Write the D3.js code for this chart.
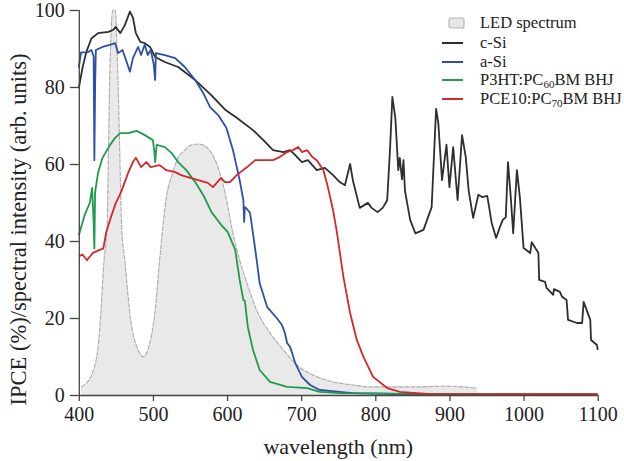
<!DOCTYPE html>
<html>
<head>
<meta charset="utf-8">
<script src="https://cdn.jsdelivr.net/npm/d3@7"></script>
<style>
  html, body { margin: 0; padding: 0; background: #fff; }
  svg { display: block; }
  svg text { font-family: "Liberation Serif", "DejaVu Serif", "Times New Roman", Times, serif; fill: #222; }
</style>
</head>
<body>
<svg id="chart" width="624" height="461"></svg>
<script>
// ---------- data ----------
const xTicks = [400, 500, 600, 700, 800, 900, 1000, 1100];
const yTicks = [0, 20, 40, 60, 80, 100];

const ledWl  = [403, 416, 426, 430, 434, 438, 442, 446, 449, 453, 458, 462, 470, 480, 487, 493, 503, 509, 518, 527, 534, 543, 551, 561, 570, 579, 588, 597, 600, 608, 617, 627, 640, 658, 676, 694, 716, 743, 770, 793, 856, 894, 937];
const ledVal = [2.1, 4.7, 12.5, 22, 35, 43, 85, 100, 100, 81, 43, 35, 19.5, 11.7, 9.9, 11.7, 22, 35, 51.2, 57.9, 61.6, 63.6, 64.9, 65.2, 64.7, 62.9, 59, 52.7, 49.9, 42, 35, 29, 22, 16.1, 11.7, 7.8, 5.2, 3.4, 2.6, 2.1, 2.1, 2.3, 1.8];

const cSiWl  = [400, 405, 410, 417, 426, 440, 446, 450, 456, 462, 469, 473, 477, 483, 489, 496, 503, 516, 534, 557, 578, 598, 613, 635, 649, 662, 676, 685, 692, 701, 709, 721, 732, 743, 752, 759, 766, 770, 779, 790, 795, 803, 810, 816, 820, 823, 827, 831, 833, 836, 838, 840, 847, 854, 865, 876, 882, 885, 890, 896, 900, 905, 911, 917, 922, 926, 932, 939, 944, 951, 957, 963, 968, 972, 976, 979, 983, 986, 991, 995, 1000, 1009, 1011, 1020, 1021, 1029, 1031, 1040, 1041, 1049, 1052, 1058, 1060, 1072, 1079, 1081, 1090, 1091, 1099, 1100];
const cSiVal = [79.7, 85, 89, 92.6, 94, 94.3, 94.8, 95.6, 94, 96, 99.6, 98, 94, 91.7, 91.4, 90.4, 87.8, 86.5, 85.2, 81.8, 78, 74, 72, 68.8, 66.2, 63.6, 63.1, 63.6, 62.3, 60.5, 61, 58.4, 59, 57.1, 55.3, 54.5, 60, 55.5, 48.6, 49.9, 48.6, 47.5, 48.6, 50.6, 64.4, 77.4, 72, 58.4, 61.6, 56, 61, 53, 45.5, 42, 42.9, 48.8, 74.3, 70.6, 55.8, 65, 54, 64.4, 50.6, 67.5, 61.8, 53, 46, 52, 51.4, 51.7, 44.7, 40.8, 43.6, 45.5, 46.2, 60.5, 50.6, 42, 58.4, 51.4, 38.2, 36.9, 39.7, 36.9, 29.9, 29.4, 27.8, 26, 27.5, 26.8, 25.5, 24.7, 19.5, 18.7, 18.7, 24.2, 19.5, 14.3, 13, 11.7];

const aSiWl  = [400, 403, 412, 417, 420, 421, 422, 423, 432, 443, 449, 453, 459, 469, 473, 480, 484, 489, 493, 497, 501, 503, 504, 516, 530, 543, 557, 568, 577, 588, 599, 608, 617, 622, 623, 624, 626, 631, 635, 640, 644, 654, 667, 674, 678, 681, 685, 692, 701, 712, 725, 752, 770, 850, 1100];
const aSiVal = [85, 89, 89, 89.6, 88, 61, 80, 89.6, 90.4, 91, 91.4, 88.8, 89.6, 84, 87.5, 90.4, 88.3, 91, 88.3, 89.6, 86, 81.8, 88.8, 88.3, 87.5, 85.2, 81.8, 78.4, 74.8, 72.7, 69.4, 63.6, 55.8, 50.6, 45, 48.8, 48.5, 47.3, 42, 35, 29, 22.9, 20, 18.2, 16.1, 13.5, 12.5, 8.3, 4.7, 2.6, 1.3, 0.8, 0.5, 0.2, 0.1];

const p3htWl  = [400, 408, 415, 418, 420, 421, 422, 426, 432, 442, 449, 456, 467, 478, 489, 500, 502, 503, 505, 516, 525, 534, 545, 557, 568, 579, 592, 601, 611, 617, 622, 624, 628, 635, 644, 658, 681, 708, 725, 752, 850, 1100];
const p3htVal = [41.5, 46.8, 50, 53.8, 45, 38, 52.7, 57.7, 61.6, 64.9, 66.8, 68, 68, 68.6, 67.5, 66.2, 63, 60.5, 65, 64.4, 62.9, 60.5, 58.4, 55.3, 51.9, 47.5, 44.2, 42.3, 37.7, 29.9, 24.7, 24.5, 17.7, 11.7, 6.5, 3.4, 2.1, 1.8, 0.8, 0.5, 0.3, 0.2];

const pce10Wl  = [400, 405, 411, 419, 428, 433, 437, 443, 450, 457, 462, 467, 473, 477, 484, 491, 497, 509, 518, 530, 538, 547, 561, 574, 581, 592, 597, 604, 613, 627, 638, 651, 662, 671, 681, 689, 696, 701, 708, 715, 721, 730, 736, 743, 748, 757, 766, 775, 784, 797, 816, 833, 870, 1100];
const pce10Val = [36, 36.5, 35, 36.9, 37.7, 38, 42.3, 46, 49.9, 52.7, 55.3, 57.9, 60.5, 61.6, 59.2, 60.5, 59.2, 59.7, 58.4, 57.9, 57.1, 56.6, 55.8, 55.1, 54, 56.4, 55.3, 55.3, 57.1, 59.2, 61, 61, 61, 61.8, 63.1, 63.6, 64.4, 63.1, 63.6, 61.8, 61, 58.4, 54, 48, 42.5, 30.6, 21.3, 14.3, 9.9, 4.7, 1.8, 0.8, 0.3, 0.2];

const seriesNames  = ["c-Si", "a-Si", "P3HT:PC60BM BHJ", "PCE10:PC70BM BHJ"];
const seriesColors = ["#2e2e2e", "#2f4fa6", "#1f9a4e", "#d3282b"];

// ---------- drawing ----------
const FONT = '"Liberation Serif", "DejaVu Serif", "Times New Roman", Times, serif';
const svg = d3.select("#chart");
const x = d3.scaleLinear().domain([400, 1100]).range([78.8, 597.7]);
const y = d3.scaleLinear().domain([0, 100]).range([395, 10]);

const zip = (a, b) => a.map((w, i) => [w, b[i]]);

// LED spectrum area
const led = zip(ledWl, ledVal);
svg.append("path")
  .datum(led)
  .attr("d", d3.area().x(d => x(d[0])).y0(y(0)).y1(d => y(d[1])).curve(d3.curveMonotoneX))
  .attr("fill", "#e9e9ea");
svg.append("path")
  .datum(led)
  .attr("d", d3.line().x(d => x(d[0])).y(d => y(d[1])).curve(d3.curveMonotoneX))
  .attr("fill", "none")
  .attr("stroke", "#acacac")
  .attr("stroke-width", 1.1)
  .attr("stroke-dasharray", "5,1");

const lineGen = d3.line().x(d => x(d[0])).y(d => y(d[1]));
const seriesData = [zip(cSiWl, cSiVal), zip(aSiWl, aSiVal), zip(p3htWl, p3htVal), zip(pce10Wl, pce10Val)];
[0, 1, 2, 3].forEach(i => {
  svg.append("path")
    .datum(seriesData[i])
    .attr("d", lineGen)
    .attr("fill", "none")
    .attr("stroke", seriesColors[i])
    .attr("stroke-width", 1.8)
    .attr("stroke-linejoin", "round");
});

// axes
const xAxis = svg.append("g")
  .attr("transform", `translate(0,${y(0)})`)
  .call(d3.axisBottom(x).tickValues(xTicks).tickSize(6).tickPadding(6).tickFormat(d3.format("d")));
const yAxis = svg.append("g")
  .attr("transform", `translate(${x(400)},0)`)
  .call(d3.axisLeft(y).tickValues(yTicks).tickSize(9).tickPadding(5).tickFormat(d3.format("d")));
[xAxis, yAxis].forEach(g => {
  g.attr("font-family", FONT).attr("font-size", 20);
  g.select(".domain").attr("stroke", "#444").attr("stroke-width", 1.3);
  g.selectAll(".tick line").attr("stroke", "#444").attr("stroke-width", 1.3);
  g.selectAll(".tick text")
    .attr("font-family", FONT)
    .style("font-family", FONT)
    .style("font-size", "20px")
    .attr("fill", "#222");
});
xAxis.selectAll(".domain").attr("d", `M${x(400)},0.5H${x(1100)}`);
yAxis.selectAll(".domain").attr("d", `M0.5,${y(100)}V${y(0)}`);

// axis titles
svg.append("text")
  .attr("x", (x(400) + x(1100)) / 2)
  .attr("y", 454)
  .attr("text-anchor", "middle")
  .style("font-family", FONT)
  .style("font-size", "22px")
  .text("wavelength (nm)");
svg.append("text")
  .attr("transform", `translate(26,${(y(0) + y(100)) / 2 + 27}) rotate(-90)`)
  .attr("text-anchor", "middle")
  .style("font-family", FONT)
  .style("font-size", "22.5px")
  .text("IPCE (%)/spectral intensity (arb. units)");

// legend
const lg = svg.append("g").attr("transform", "translate(442,0)");
lg.append("rect")
  .attr("x", 7).attr("y", 18).attr("width", 15).attr("height", 10).attr("rx", 2)
  .attr("fill", "#e6e6e6").attr("stroke", "#b5b5b5").attr("stroke-width", 1.2);
lg.append("text").attr("x", 38).attr("y", 28)
  .style("font-family", FONT).style("font-size", "16.5px").text("LED spectrum");

const rowsY = [43, 62, 80, 99];
seriesNames.forEach((name, i) => {
  lg.append("line")
    .attr("x1", 0).attr("x2", 21).attr("y1", rowsY[i]).attr("y2", rowsY[i])
    .attr("stroke", seriesColors[i]).attr("stroke-width", 2);
  const t = lg.append("text").attr("x", 38).attr("y", rowsY[i] + 5)
    .style("font-family", FONT).style("font-size", "16.5px");
  const m = name.match(/^(.*PC)(\d\d)(.*)$/);
  if (m) {
    t.append("tspan").text(m[1]);
    t.append("tspan").attr("dy", 3).style("font-size", "11px").text(m[2]);
    t.append("tspan").attr("dy", -3).text(m[3]);
  } else {
    t.text(name);
  }
});
</script>
</body>
</html>
